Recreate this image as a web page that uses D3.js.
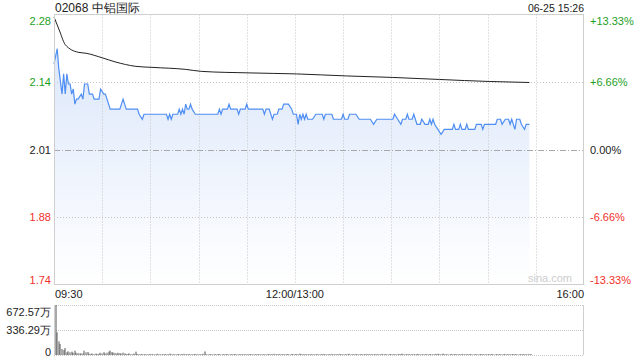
<!DOCTYPE html>
<html><head><meta charset="utf-8">
<script src="https://cdn.jsdelivr.net/npm/d3@7"></script>
<style>
html,body{margin:0;padding:0;background:#fff;}
svg{display:block;font-family:"Liberation Sans",Arial,sans-serif;}
</style></head>
<body><svg id="c" width="640" height="360"></svg>
<script>
// ---- data ----
const title = "02068 中铝国际";
const stamp = "06-25 15:26";
const prevClose = 2.01;
const priceTickLabels = ["2.28","2.14","2.01","1.88","1.74"];
const pctTicks = [13.33, 6.66, 0, -6.66, -13.33];
const pctTickLabels = ["+13.33%","+6.66%","0.00%","-6.66%","-13.33%"];
const timeLabels = ["09:30","12:00/13:00","16:00"];
const timeLabelMinutes = [0,150,330];
const volTickLabels = ["672.57万","336.29万","0"];
const volTicks = [672.57, 336.29, 0];
// minutes from 09:30 (lunch removed) and price
const priceMinutes = [0,2,3,5,6,7,8,9,10,11,12,13,14,15,17,18,19,21,22,24,25,28,29,31,32,33,35,41,43,45,52,53,55,56,70,71,72,73,74,77,78,79,80,81,82,83,84,85,86,88,102,103,104,105,108,109,110,114,115,116,119,120,121,130,131,132,134,136,137,139,140,142,143,146,148,149,151,152,153,154,155,156,157,158,161,163,167,168,169,173,174,179,180,181,183,184,188,190,197,199,201,211,212,214,216,217,219,220,221,223,224,225,226,228,229,231,233,234,235,236,237,239,241,243,248,249,250,252,253,254,256,257,258,262,263,266,267,268,275,276,278,279,281,283,284,285,287,288,290,291,293,294,296];
const priceValues = [2.18,2.21,2.17,2.12,2.16,2.12,2.16,2.14,2.14,2.12,2.13,2.10,2.11,2.11,2.12,2.11,2.14,2.14,2.12,2.12,2.11,2.11,2.13,2.12,2.12,2.11,2.09,2.09,2.11,2.09,2.09,2.08,2.07,2.08,2.08,2.07,2.08,2.07,2.08,2.08,2.09,2.08,2.09,2.08,2.10,2.09,2.09,2.10,2.09,2.08,2.08,2.09,2.08,2.09,2.09,2.10,2.09,2.09,2.08,2.09,2.09,2.10,2.09,2.09,2.08,2.09,2.09,2.07,2.08,2.08,2.09,2.09,2.10,2.10,2.09,2.08,2.08,2.06,2.08,2.07,2.08,2.07,2.08,2.07,2.07,2.08,2.08,2.07,2.08,2.08,2.07,2.07,2.08,2.07,2.07,2.08,2.08,2.07,2.07,2.06,2.07,2.07,2.08,2.07,2.06,2.07,2.07,2.08,2.07,2.07,2.08,2.07,2.06,2.06,2.07,2.06,2.06,2.07,2.06,2.07,2.06,2.05,2.04,2.05,2.05,2.06,2.05,2.05,2.06,2.05,2.05,2.06,2.05,2.05,2.06,2.06,2.05,2.06,2.06,2.07,2.07,2.06,2.07,2.07,2.06,2.07,2.05,2.07,2.07,2.06,2.05,2.06,2.06];
const avgMinutes = [0,4,6,7,15,20,30,38,51,61,82,92,122,151,182,211,240,271,296];
const avgValues = [2.273,2.241,2.224,2.218,2.203,2.201,2.192,2.184,2.175,2.173,2.169,2.165,2.162,2.160,2.156,2.153,2.149,2.145,2.143];
// volume per minute, 万 shares
const volumes = [672.57,305,184,148,81,67,94,36,50,36,
45,30,58,30,25,20,22,18,58,35,
40,18,15,20,12,18,15,14,30,22,
38,20,30,45,58,40,32,28,20,30,
25,18,32,20,15,14,22,12,10,18,
45,15,12,10,14,8,12,10,9,14,
11,8,10,16,9,12,8,10,14,9,
12,18,10,8,11,9,14,10,8,12,
16,10,9,13,8,11,10,14,9,8,
12,10,15,48,11,9,13,8,10,12,
9,11,14,8,10,12,9,13,8,10,
11,9,14,10,8,12,10,9,13,8,
10,14,9,11,8,12,10,9,11,8,
12,9,10,14,8,11,16,9,10,12,
9,13,10,8,12,11,9,14,10,8,
14,10,18,12,9,11,13,8,10,12,
9,11,8,13,10,9,12,14,8,10,
11,9,13,8,12,10,9,14,10,11,
8,12,10,16,9,11,8,13,10,9,
12,10,8,11,14,9,10,12,8,13,
10,9,11,14,8,12,10,9,13,11,
8,12,10,9,14,11,18,10,9,12,
11,8,13,10,9,12,14,10,8,11,
9,12,10,13,8,11,10,14,16,12,
10,18,12,9,11,8,13,10,9,12,
11,9,10,14,8,12,10,9,13,11,
8,10,12,9,11,13,10,8,12,9,
11,10,14,8,9,12,10,11,9,13,
10,8,12,11,9,14,10,12,8,11,
9,13,10,12,8,11,14];

// ---- layout ----
const L = 54, R = 584, T = 14.5, B = 284.5;
const VT = 305, VB = 355;
const green = "#1ea01e", red = "#f0302a", dark = "#222";
const svg = d3.select("#c");

const x = d3.scaleLinear().domain([0,330]).range([L,R]);
const yPct = d3.scaleLinear().domain([-13.33,13.33]).range([B,T]);
const toPct = p => (p/prevClose - 1)*100;
const y = p => yPct(toPct(p));
const yVol = d3.scaleLinear().domain([0,672.57]).range([VB,VT]);

// gradient
const defs = svg.append("defs");
const g = defs.append("linearGradient").attr("id","fillg")
  .attr("gradientUnits","userSpaceOnUse").attr("x1",0).attr("x2",0).attr("y1",T).attr("y2",B);
g.append("stop").attr("offset","0").attr("stop-color","#d7e4fa");
g.append("stop").attr("offset","1").attr("stop-color","#ffffff");

// title
svg.append("text").attr("x",L+1).attr("y",12).attr("font-size",12).attr("fill","#222").text(title);
svg.append("text").attr("x",R).attr("y",11.5).attr("text-anchor","end").attr("font-size",10.5).attr("fill","#222").text(stamp);

// area
const pts = priceMinutes.map((m,i)=>[m,priceValues[i]]);
svg.append("path").datum(pts)
  .attr("d", d3.area().x(d=>x(d[0])).y0(B).y1(d=>y(d[1])))
  .attr("fill","url(#fillg)");

// vertical gridlines
const vgrid = d3.range(30,330,30);
svg.append("g").selectAll("line").data(vgrid).join("line")
  .attr("x1",d=>Math.round(x(d))+0.5).attr("x2",d=>Math.round(x(d))+0.5)
  .attr("y1",T).attr("y2",B).attr("stroke","#c4c4c4").attr("stroke-dasharray","1,2");
// horizontal gridlines
svg.append("g").selectAll("line").data(pctTicks.filter(d=>Math.abs(d)<13)).join("line")
  .attr("x1",L).attr("x2",R)
  .attr("y1",d=>Math.round(yPct(d))+0.5).attr("y2",d=>Math.round(yPct(d))+0.5)
  .attr("stroke",d=>d===0?"#a8a8a8":"#c4c4c4")
  .attr("stroke-dasharray",d=>d===0?"6,2,1,2":"1,2");

// price line
svg.append("path").datum(pts)
  .attr("d", d3.line().x(d=>x(d[0])).y(d=>y(d[1])))
  .attr("fill","none").attr("stroke","#4f8ef2").attr("stroke-width",1.2);
// avg line
const apts = avgMinutes.map((m,i)=>[m,avgValues[i]]);
svg.append("path").datum(apts)
  .attr("d", d3.line().curve(d3.curveMonotoneX).x(d=>x(d[0])).y(d=>y(d[1])))
  .attr("fill","none").attr("stroke","#222").attr("stroke-width",1);

// border
svg.append("rect").attr("x",L+0.5).attr("y",T).attr("width",R-L-1).attr("height",B-T)
  .attr("fill","none").attr("stroke","#cfcfcf");

// watermark
svg.append("text").attr("x",572).attr("y",282).attr("text-anchor","end")
  .attr("font-size",11).attr("fill","#cdcdcd").text("sina.com");

// left axis
const colorFor = d => d>0?green:(d<0?red:dark);
const la = svg.append("g").attr("transform",`translate(${L-3},0)`)
  .call(d3.axisLeft(yPct).tickValues(pctTicks).tickSize(0).tickPadding(0)
    .tickFormat((d,i)=>priceTickLabels[i]));
la.select(".domain").remove();
la.selectAll("text").attr("font-size",11).attr("font-family","Liberation Sans, Arial, sans-serif")
  .attr("fill",d=>colorFor(d))
  .attr("dy",d=>d>13?"0.95em":(d<-13?"-0.05em":"0.32em"));
// right axis
const ra = svg.append("g").attr("transform",`translate(${R+6},0)`)
  .call(d3.axisRight(yPct).tickValues(pctTicks).tickSize(0).tickPadding(0)
    .tickFormat((d,i)=>pctTickLabels[i]));
ra.select(".domain").remove();
ra.selectAll("text").attr("font-size",11).attr("font-family","Liberation Sans, Arial, sans-serif")
  .attr("fill",d=>colorFor(d))
  .attr("dy",d=>d>13?"0.95em":(d<-13?"-0.05em":"0.32em"));

// time labels
svg.append("g").selectAll("text").data(timeLabelMinutes).join("text")
  .attr("x",d=>x(d)+(d===0?1:0)).attr("y",297.5).attr("font-size",11).attr("fill","#222")
  .attr("text-anchor",(d,i)=>i===0?"start":(i===timeLabels.length-1?"end":"middle"))
  .text((d,i)=>timeLabels[i]);

// volume panel
svg.append("g").selectAll("line").data(volTicks).join("line")
  .attr("x1",L).attr("x2",R)
  .attr("y1",d=>Math.round(yVol(d))+0.5).attr("y2",d=>Math.round(yVol(d))+0.5)
  .attr("stroke","#c8c8c8").attr("stroke-dasharray","1,1");
svg.append("line").attr("x1",L+0.5).attr("x2",L+0.5).attr("y1",VT).attr("y2",VB).attr("stroke","#cfcfcf");
svg.append("line").attr("x1",R-0.5).attr("x2",R-0.5).attr("y1",VT).attr("y2",VB).attr("stroke","#cfcfcf");
svg.append("g").selectAll("rect").data(volumes).join("rect")
  .attr("x",(d,i)=>Math.round(x(i)+0.5)+0.5).attr("width",1)
  .attr("y",d=>yVol(d)).attr("height",d=>VB-yVol(d))
  .attr("fill","#555");
const va = svg.append("g").attr("transform",`translate(${L-3},0)`)
  .call(d3.axisLeft(yVol).tickValues(volTicks).tickSize(0).tickPadding(0)
    .tickFormat((d,i)=>volTickLabels[i]));
va.select(".domain").remove();
va.selectAll("text").attr("font-size",11).attr("font-family","Liberation Sans, Arial, sans-serif")
  .attr("fill","#222")
  .attr("dy",d=>d>600?"0.95em":(d===0?"0.05em":"0.32em"));
</script></body></html>
